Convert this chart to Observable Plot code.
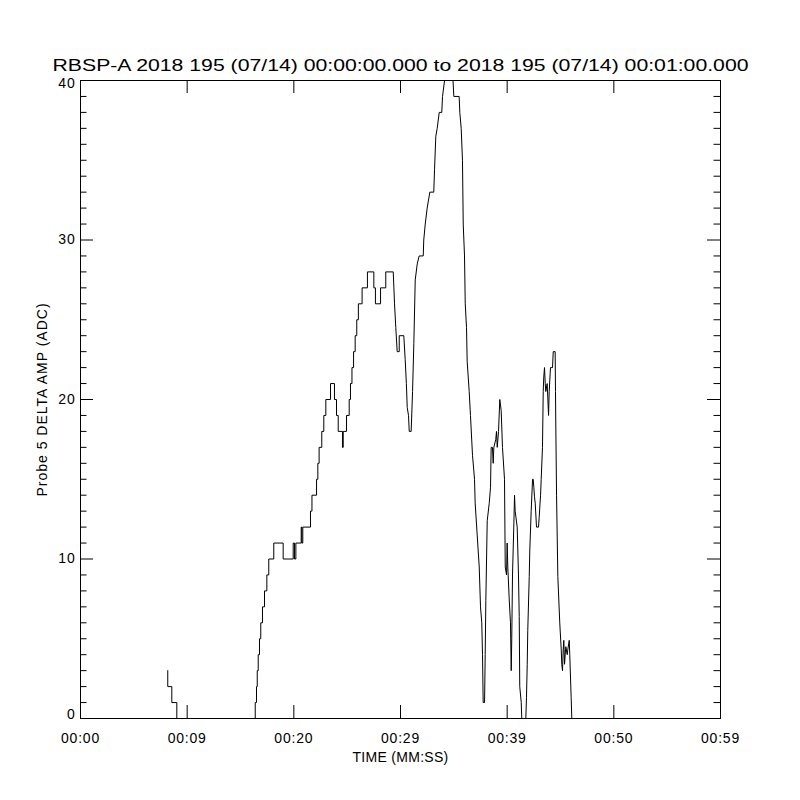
<!DOCTYPE html>
<html>
<head>
<meta charset="utf-8">
<script src="https://cdn.jsdelivr.net/npm/d3@7"></script>
<script src="https://cdn.jsdelivr.net/npm/@observablehq/plot@0.6"></script>
<style>
  html, body { margin: 0; padding: 0; background: white; }
  svg { display: block; }
</style>
</head>
<body>
<div id="chart"></div>
<script>
const titleText = "RBSP-A 2018 195 (07/14) 00:00:00.000 to 2018 195 (07/14) 00:01:00.000";
const xAxisTitle = "TIME (MM:SS)";
const yAxisTitle = "Probe 5 DELTA AMP (ADC)";

const xTickValues = [0, 10, 20, 30, 40, 50, 60];
const xTickLabels = ["00:00", "00:09", "00:20", "00:29", "00:39", "00:50", "00:59"];
const yMajorTicks = [0, 10, 20, 30, 40];
const yMinorTicks = d3.range(0, 41).filter(v => v % 10 !== 0);

// seconds from 00:00:00
const timeSec = [
  8.18, 8.18, 8.56, 8.56, 9.03, 9.03, 16.38, 16.38, 16.5, 16.5, 16.57, 16.57, 16.66, 16.66,
  16.78, 16.78, 16.9, 16.9, 17.06, 17.06, 17.25, 17.25, 17.47, 17.47, 17.65, 17.65, 18.12, 18.12,
  19.0, 19.0, 19.94, 19.94, 20.06, 20.06, 20.19, 20.19, 20.69, 20.69, 20.75, 20.75, 20.84, 20.84,
  21.56, 21.56, 21.70, 21.70, 22.13, 22.13, 22.25, 22.25, 22.37, 22.37, 22.62, 22.62, 22.81, 22.81,
  23.0, 23.0, 23.44, 23.44, 23.81, 23.81, 24.0, 24.0, 24.16, 24.16, 24.56, 24.56, 24.63, 24.63,
  24.94, 24.94, 25.19, 25.19, 25.31, 25.31, 25.45, 25.45, 25.6, 25.6, 25.75, 25.75, 25.9, 25.9,
  26.05, 26.05, 26.4, 26.4, 26.9, 26.9, 27.5, 27.5, 27.65, 27.65, 28.13, 28.13, 28.62, 28.62,
  29.32, 29.38, 29.44, 29.56, 29.69, 29.88, 29.88, 30.31, 30.44, 30.55, 30.63, 30.75, 30.82, 31.0,
  31.13, 31.25, 31.38, 31.57, 31.75, 32.13, 32.18, 32.32, 32.5, 32.75, 33.12, 33.19, 33.31, 33.44,
  33.63, 33.87, 33.94, 34.13, 34.25, 34.85, 35.0, 35.5, 35.56, 35.69, 35.81, 35.88, 36.0, 36.07,
  36.19, 36.25, 36.44, 36.56, 36.75, 36.94, 37.0, 37.19, 37.38, 37.5, 37.62, 37.69, 37.75, 37.88,
  37.94, 38.0, 38.13, 38.32, 38.44, 38.5, 38.62, 38.69, 38.75, 38.93, 39.0, 39.07, 39.19, 39.31,
  39.44, 39.56, 39.75, 39.82, 39.94, 40.0, 40.06, 40.19, 40.31, 40.38, 40.43, 40.5, 40.62, 40.69,
  40.75, 40.94, 41.06, 41.13, 41.18, 41.32, 41.37, 41.75, 41.81, 41.88, 41.93, 42.07, 42.12, 42.25,
  42.38, 42.44, 42.5, 42.56, 42.63, 42.75, 42.94, 43.0, 43.13, 43.19, 43.31, 43.38, 43.43, 43.5,
  43.57, 43.62, 43.75, 43.81, 43.88, 43.94, 44.06, 44.25, 44.32, 44.5, 44.53, 44.56, 44.63, 44.75,
  44.93, 45.07, 45.12, 45.19, 45.25, 45.31, 45.38, 45.44, 45.5, 45.63, 45.68, 45.82, 45.87, 46.0, 46.06
];
// Probe 5 delta amplitude (ADC)
const ampADC = [
  3, 2, 2, 1, 1, 0, 0, 1, 1, 2, 2, 3, 3, 4,
  4, 5, 5, 6, 6, 7, 7, 8, 8, 9, 9, 10, 10, 11,
  11, 10, 10, 11, 11, 10, 10, 11, 11, 12, 12, 11, 11, 12,
  12, 13, 13, 14, 14, 15, 15, 16, 16, 17, 17, 18, 18, 19,
  19, 20, 20, 21, 21, 20, 20, 19, 19, 18, 18, 17, 17, 18,
  18, 19, 19, 20, 20, 21, 21, 22, 22, 23, 23, 24, 24, 25,
  25, 26, 26, 27, 27, 28, 28, 27, 27, 26, 26, 27, 27, 28,
  28, 27, 26, 24.5, 23, 23, 24, 24, 22.5, 21, 19.5, 19, 18, 18,
  20.5, 23.5, 27.5, 28.5, 29, 29, 30, 31, 32, 33, 33, 34.4, 36.5, 37,
  38, 38, 39, 40, 41, 41, 39, 39, 38, 37, 35, 31, 29, 26,
  24.5, 22.4, 20.5, 19, 16.5, 15, 13.5, 11.5, 9.5, 7, 6, 4, 1, 1,
  4, 7.4, 12.4, 13.5, 14.5, 17, 17, 16, 17, 17.5, 18, 17, 18, 20,
  19.3, 17, 15, 9.5, 9, 11, 9.5, 7.5, 6, 3, 5, 9, 12, 14,
  13, 12, 9, 6.4, 2, 1, 0, 0, 1.3, 3.4, 5.5, 8.9, 10.5, 13,
  15, 15, 14.5, 13.9, 13.5, 12, 12, 12.6, 14, 15, 17, 20.5, 21.4, 22,
  21, 20.5, 21, 20.1, 19, 20.5, 22, 22, 23, 23, 20.5, 18.4, 14, 8.9,
  6, 4.3, 3.4, 3, 4.3, 4.9, 3.4, 4, 4.5, 4, 4.3, 4.9, 4, 1.3, 0
];

const data = timeSec.map((t, i) => ({t, v: ampADC[i]}));

const W = 800, H = 800;
const mL = 80, mR = 80, mT = 80, mB = 82;
const fw = W - mL - mR, fh = H - mT - mB;
const majorLen = 13, minorLen = 6.5;

const chart = Plot.plot({
  width: W,
  height: H,
  marginLeft: mL, marginRight: mR, marginTop: mT, marginBottom: mB,
  style: {fontFamily: "Liberation Sans, Arial, sans-serif", fontSize: "14px", color: "black", background: "white"},
  x: {domain: [0, 60]},
  y: {domain: [0, 40]},
  marks: [
    Plot.line(data, {x: "t", y: "v", stroke: "black", strokeWidth: 1, clip: true}),
    Plot.frame({stroke: "black", strokeWidth: 1}),
    // x ticks (inward, bottom and top)
    Plot.tickX(xTickValues, {x: d => d, stroke: "black", insetTop: fh - majorLen}),
    Plot.tickX(xTickValues, {x: d => d, stroke: "black", insetBottom: fh - majorLen}),
    // y major ticks (left and right)
    Plot.tickY(yMajorTicks, {y: d => d, stroke: "black", insetRight: fw - majorLen}),
    Plot.tickY(yMajorTicks, {y: d => d, stroke: "black", insetLeft: fw - majorLen}),
    // y minor ticks
    Plot.tickY(yMinorTicks, {y: d => d, stroke: "black", insetRight: fw - minorLen}),
    Plot.tickY(yMinorTicks, {y: d => d, stroke: "black", insetLeft: fw - minorLen}),
    // tick labels
    Plot.axisX({ticks: xTickValues, tickSize: 0, tickPadding: 15, label: null,
                tickFormat: d => xTickLabels[xTickValues.indexOf(d)], fontSize: 14}),
    Plot.axisY({ticks: [10, 20, 30], tickSize: 0, tickPadding: 5, label: null, fontSize: 14}),
    Plot.axisY({ticks: [0], tickSize: 0, tickPadding: 5, label: null, fontSize: 14, dy: -3.5}),
    Plot.axisY({ticks: [40], tickSize: 0, tickPadding: 5, label: null, fontSize: 14, dy: 3}),
    // titles
    Plot.text([xAxisTitle], {frameAnchor: "bottom", lineAnchor: "middle", dy: 39.5, fontSize: 14, fill: "black"}),
    Plot.text([yAxisTitle], {frameAnchor: "left", lineAnchor: "middle", dx: -38, rotate: -90, textAnchor: "middle", fontSize: 14, fill: "black"}),
    Plot.text([titleText], {frameAnchor: "top", lineAnchor: "middle", dy: -14.8, fontSize: 17, fill: "black"})
  ]
});

document.getElementById("chart").appendChild(chart);

const svg = d3.select(chart);
svg.selectAll('g[aria-label="x-axis tick label"] text, g[aria-label="y-axis tick label"] text')
  .style("letter-spacing", "0.8px");
svg.selectAll("text")
  .filter(function() { return this.textContent === titleText; })
  .attr("textLength", 696)
  .attr("lengthAdjust", "spacingAndGlyphs");
svg.selectAll("text")
  .filter(function() { return this.textContent === yAxisTitle; })
  .style("letter-spacing", "1px");
svg.selectAll("text")
  .filter(function() { return this.textContent === xAxisTitle; })
  .style("letter-spacing", "0.3px");
</script>
</body>
</html>
